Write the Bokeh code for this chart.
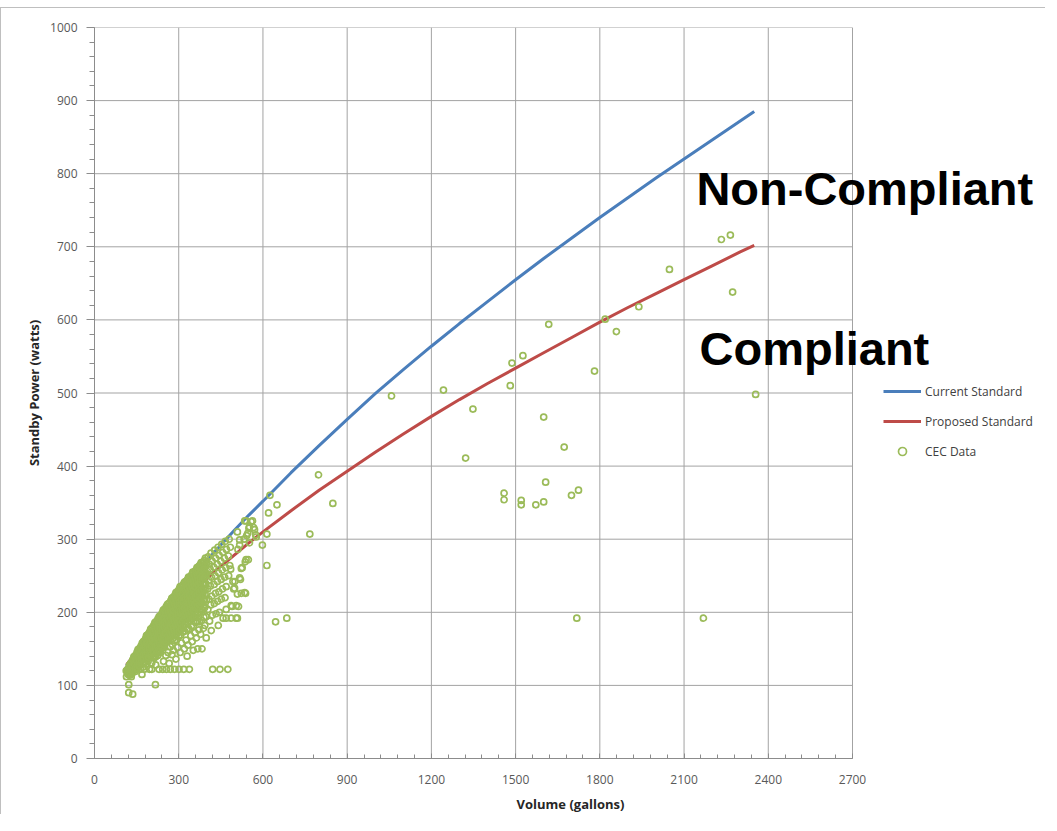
from bokeh.plotting import figure
from bokeh.models import Range1d, SingleIntervalTicker, Legend, LegendItem, Label
from bokeh.embed import file_html
from bokeh.resources import INLINE

# ---------------- data ----------------
std_volume = [114, 150, 200, 250, 300, 350, 400, 450, 500, 550, 600, 700, 800, 900, 1000,
              1100, 1200, 1300, 1400, 1500, 1600, 1700, 1800, 1900, 2000, 2100, 2200,
              2300, 2350]
current_watts = [127, 147, 174, 200, 225, 249, 271, 292, 313, 333, 352, 391, 428, 464, 499,
                 532, 564, 595, 625, 655, 684, 712, 740, 767, 794, 820, 846,
                 872, 885]
proposed_watts = [128, 146, 169, 190, 210, 229, 246, 263, 279, 295, 310, 339, 367, 393, 419,
                  444, 468, 491, 513, 534, 555, 576, 597, 617, 636, 655, 674,
                  693, 702]

# CEC data - dense cluster, first set of columns (one line per column of points)
cluster_volume = [
    116, 119, 114,
    125, 128, 123, 126,
    132, 135, 130, 133,
    140, 143, 138, 141,
    148, 151, 146, 149, 145,
    155, 158, 153, 156, 152,
    162, 165, 160, 163, 159, 164,
    170, 173, 168, 171, 167, 172,
    178, 181, 176, 179, 175, 180, 177,
    185, 188, 183, 186, 182, 187, 184,
    192, 195, 190, 193, 189, 194, 191, 196,
    200, 203, 198, 201, 197, 202, 199, 204,
    208, 211, 206, 209, 205, 210, 207, 212, 204,
    215, 218, 213, 216, 212, 217, 214, 219,
    222, 225, 220, 223, 219, 224, 221, 226, 218, 230,
    230, 233, 228, 231, 227, 232, 229, 234, 226,
    238, 241, 236, 239, 235, 240, 237, 242, 234, 243,
    245, 248, 243, 246, 242, 247, 244, 249, 241, 246,
    252, 255, 250, 253, 249, 254, 251, 256, 248, 254, 256,
    260, 263, 258, 261, 257, 262, 259, 264, 256, 262,
    268, 271, 266, 269, 265, 270, 267, 272, 264, 270, 266, 270,
    275, 278, 273, 276, 272, 277, 274, 279, 271, 277, 276,
    283, 286, 281, 284, 280, 285, 282, 287, 279, 285, 281, 285,
    290, 293, 288, 291, 287, 292, 289, 294, 286, 292, 290,
    298, 301, 296, 299, 295, 300, 297, 302, 294, 300, 296, 301,
    305, 308, 303, 306, 302, 307, 304, 309, 301, 307, 305,
    312, 315, 310, 313, 309, 314, 311, 316, 308, 314, 310, 318,
    320, 323, 318, 321, 317, 322, 319, 324, 316, 322, 320,
    328, 331, 326, 329, 325, 330, 327, 332, 324, 330, 326, 330,
    335, 338, 333, 336, 332, 337, 334, 339, 331, 337, 333, 338,
    343, 346, 341, 344, 340, 345, 342, 347, 339, 345, 343,
    350, 353, 348, 351, 347, 352, 349, 354, 346, 352, 348, 352,
    358, 361, 356, 359, 355, 360, 357, 362, 354, 360, 358,
    365, 368, 363, 366, 362, 367, 364, 369, 361, 367, 363, 368,
    372, 375, 370, 373, 369, 374, 371, 376, 368, 374, 372,
    380, 383, 378, 381, 377, 382, 379, 384, 376, 382, 378, 383,
    388, 391, 386, 389, 385, 390, 387, 392, 384, 390, 388,
    395, 398, 393, 396, 392, 397, 394, 399, 391, 397, 393, 398,
    405, 409, 402, 407, 403, 408, 404, 410,
    415, 419, 412, 417, 413, 418, 414, 420, 416,
    428, 432, 425, 430, 426, 431, 427, 433,
    440, 444, 437, 442, 438, 443, 439, 445, 441,
    453, 457, 450, 455, 451, 456, 452,
    466, 470, 463, 468, 464, 469, 465,
    480, 484, 477, 482, 478,
]
cluster_watts = [
    121, 117, 112,
    128, 123, 119, 114,
    131, 126, 120, 116,
    139, 134, 127, 121,
    142, 136, 132, 124, 119,
    149, 144, 137, 131, 125,
    151, 147, 139, 135, 127, 122,
    158, 150, 146, 138, 134, 125,
    161, 157, 149, 145, 137, 132, 122,
    168, 160, 156, 148, 144, 135, 129,
    170, 166, 158, 154, 146, 142, 133, 122,
    177, 169, 165, 157, 153, 145, 140, 131,
    180, 176, 168, 164, 156, 152, 143, 137, 122,
    186, 178, 174, 166, 162, 154, 149, 139,
    188, 184, 176, 172, 164, 160, 151, 145, 128, 122,
    194, 186, 182, 174, 170, 162, 157, 148, 141,
    197, 193, 185, 181, 173, 169, 160, 155, 145, 122,
    203, 195, 191, 183, 179, 171, 166, 157, 151, 133,
    205, 201, 193, 189, 181, 177, 168, 163, 153, 141, 122,
    211, 203, 199, 191, 187, 179, 174, 165, 159, 145,
    213, 209, 201, 197, 189, 185, 176, 171, 161, 153, 130, 122,
    219, 211, 207, 199, 195, 187, 182, 173, 167, 156, 142,
    221, 217, 209, 205, 197, 193, 184, 179, 169, 161, 148, 122,
    227, 219, 215, 207, 203, 195, 190, 181, 175, 162, 136,
    229, 225, 217, 213, 205, 201, 192, 187, 176, 167, 152, 122,
    235, 227, 223, 215, 211, 203, 198, 189, 181, 169, 145,
    236, 232, 224, 220, 212, 208, 199, 193, 182, 173, 158, 122,
    241, 233, 229, 221, 217, 209, 204, 194, 187, 174, 150,
    243, 239, 231, 227, 219, 214, 205, 199, 187, 177, 162, 140,
    248, 240, 236, 228, 224, 215, 210, 199, 191, 177, 155, 122,
    249, 245, 237, 233, 225, 220, 210, 203, 191, 181, 168,
    255, 247, 243, 235, 231, 221, 215, 204, 195, 181, 160, 148,
    256, 252, 244, 240, 232, 226, 216, 209, 195, 186, 172,
    261, 253, 249, 241, 237, 227, 220, 209, 199, 187, 165, 150,
    263, 259, 251, 247, 238, 232, 221, 213, 199, 187, 176,
    268, 260, 256, 248, 243, 233, 226, 213, 204, 189, 170, 150,
    269, 265, 257, 253, 244, 238, 227, 217, 204, 193, 178,
    274, 266, 262, 254, 249, 239, 231, 217, 208, 194, 182, 165,
    276, 266, 256, 244, 232, 218, 204, 188,
    281, 270, 259, 248, 236, 222, 210, 196, 175,
    285, 274, 262, 250, 238, 226, 212, 198,
    289, 278, 266, 254, 242, 228, 215, 200, 182,
    293, 282, 270, 258, 245, 232, 218,
    297, 286, 274, 261, 248, 235, 220,
    300, 289, 277, 264, 250,
]

# CEC data - dense cluster, second set of columns lying between the first ones
core_volume = [
    121, 123, 119,
    129, 131, 127, 130,
    136, 138, 134, 137,
    144, 146, 142, 145,
    152, 154, 150, 153, 151,
    159, 161, 157, 160, 158,
    166, 168, 164, 167, 165,
    174, 176, 172, 175, 173, 177,
    182, 184, 180, 183, 181, 185,
    189, 191, 187, 190, 188, 192,
    196, 198, 194, 197, 195, 199, 193,
    204, 206, 202, 205, 203, 207, 201,
    212, 214, 210, 213, 211, 215, 209, 214,
    219, 221, 217, 220, 218, 222, 216, 221,
    226, 228, 224, 227, 225, 229, 223, 228,
    234, 236, 232, 235, 233, 237, 231, 236, 232,
    242, 244, 240, 243, 241, 245, 239, 244, 240,
    249, 251, 247, 250, 248, 252, 246, 251, 247,
    256, 258, 254, 257, 255, 259, 253, 258, 254,
    264, 266, 262, 265, 263, 267, 261, 266, 262,
    272, 274, 270, 273, 271, 275, 269, 274, 270,
    279, 281, 277, 280, 278, 282, 276, 281, 277, 279,
    287, 289, 285, 288, 286, 290, 284, 289, 285, 287,
    294, 296, 292, 295, 293, 297, 291, 296, 292, 294,
    302, 304, 300, 303, 301, 305, 299, 304, 300, 302,
    309, 311, 307, 310, 308, 312, 306, 311, 307, 309,
    316, 318, 314, 317, 315, 319, 313, 318, 314, 316,
    324, 326, 322, 325, 323, 327, 321, 326, 322, 324,
    332, 334, 330, 333, 331, 335, 329, 334, 330, 332,
    339, 341, 337, 340, 338, 342, 336, 341, 337, 339,
    347, 349, 345, 348, 346, 350, 344, 349, 345, 347,
    354, 356, 352, 355, 353, 357, 351, 356, 352, 354,
    362, 364, 360, 363, 361, 365, 359, 364, 360, 362,
    369, 371, 367, 370, 368, 372, 366, 371, 367, 369,
    376, 378, 374, 377, 375, 379, 373, 378, 374, 376,
    384, 386, 382, 385, 383, 387, 381, 386, 382, 384,
    392, 394, 390, 393, 391, 395, 389, 394, 390, 392,
]
core_watts = [
    124, 119, 115,
    130, 125, 121, 117,
    135, 130, 124, 119,
    140, 135, 129, 123,
    146, 140, 134, 128, 123,
    150, 144, 138, 132, 127,
    154, 148, 143, 137, 131,
    160, 154, 148, 142, 136, 130,
    164, 158, 152, 146, 141, 135,
    169, 163, 157, 151, 145, 139,
    173, 167, 162, 156, 150, 144, 138,
    178, 172, 166, 160, 154, 148, 142,
    183, 177, 171, 165, 159, 153, 147, 141,
    187, 181, 175, 169, 163, 157, 151, 145,
    191, 185, 179, 173, 167, 161, 155, 149,
    195, 189, 183, 177, 171, 165, 159, 153, 147,
    200, 194, 188, 182, 176, 170, 164, 158, 152,
    204, 198, 192, 186, 180, 174, 168, 162, 156,
    208, 202, 196, 190, 184, 178, 172, 166, 160,
    212, 206, 200, 194, 188, 182, 176, 170, 163,
    216, 210, 204, 198, 192, 186, 180, 174, 167,
    220, 214, 208, 202, 196, 190, 184, 178, 171, 164,
    224, 218, 212, 206, 200, 194, 188, 182, 175, 168,
    228, 222, 216, 210, 204, 198, 192, 186, 179, 171,
    232, 226, 220, 214, 208, 202, 196, 189, 182, 174,
    235, 229, 223, 217, 211, 205, 199, 192, 185, 177,
    238, 232, 226, 220, 214, 208, 202, 195, 188, 180,
    242, 236, 230, 224, 218, 212, 206, 199, 191, 183,
    245, 239, 233, 227, 221, 215, 209, 202, 194, 186,
    248, 242, 236, 230, 224, 218, 212, 205, 197, 188,
    252, 246, 240, 234, 228, 222, 216, 208, 200, 191,
    255, 249, 243, 237, 231, 225, 218, 211, 203, 193,
    258, 252, 246, 240, 234, 228, 221, 214, 206, 196,
    262, 256, 250, 244, 238, 231, 224, 216, 208, 198,
    265, 259, 253, 247, 241, 234, 227, 219, 210, 200,
    268, 262, 256, 250, 244, 237, 230, 222, 213, 203,
    271, 265, 259, 253, 247, 240, 233, 225, 216, 206,
]

# CEC data - individual points around and away from the cluster
outlier_volume = [
    535, 558, 563, 540, 552, 567, 550, 570, 509, 546, 574, 542, 576, 533, 517, 552, 517, 511,
    548, 540, 537, 526, 523, 485, 520, 517, 500, 493, 535, 509, 523, 538, 496, 499,
    513, 490, 487, 505, 469, 509, 487, 458, 469, 505,
    598, 614, 620, 625, 650, 614, 645, 685, 767, 798, 849,
    421, 447, 475,
    113, 122, 122, 136, 131, 169, 217,
    1058, 1243, 1348, 1322, 1481, 1487, 1526, 1618, 1600, 1673, 1607, 1459, 1459, 1520,
    1520, 1572, 1600, 1699, 1724, 1718, 1781, 1819, 1859, 1939, 2048, 2233, 2265, 2273,
    2169, 2355,
]
outlier_watts = [
    325, 324, 325, 325, 317, 316, 315, 313, 310, 308, 306, 305, 303, 300, 299, 295, 292, 286,
    272, 272, 269, 261, 260, 259, 245, 247, 242, 242, 227, 225, 226, 226, 232, 233,
    208, 208, 209, 209, 204, 192, 192, 192, 192, 192,
    292, 307, 336, 360, 347, 264, 187, 192, 307, 388, 349,
    122, 122, 122,
    120, 101, 90, 88, 112, 115, 101,
    496, 504, 478, 411, 510, 541, 551, 594, 467, 426, 378, 363, 354, 353,
    347, 347, 351, 360, 367, 192, 530, 601, 584, 618, 669, 710, 716, 638,
    192, 498,
]

assert len(cluster_volume) == len(cluster_watts)
assert len(core_volume) == len(core_watts)
assert len(outlier_volume) == len(outlier_watts)
cec_volume = cluster_volume + core_volume + outlier_volume
cec_watts = cluster_watts + core_watts + outlier_watts

x_max, x_step = 2700, 300
y_max, y_step = 1000, 100
x_grid_values = list(range(x_step, x_max + 1, x_step))
y_grid_values = list(range(y_step, y_max + 1, y_step))

# ---------------- figure ----------------
FONT = "Open Sans"
GRID = "#a3a3a3"
AXIS = "#8c8c8c"
TICK_TEXT = "#595959"

FIG_W, FIG_H = 1045, 807
BORDER_L, BORDER_T, BORDER_B = 93, 19, 56
frame_w = FIG_W - BORDER_L
# the plot frame runs past the 2700-gallon edge so that the legend and big labels fit
x_view_end = x_max * frame_w / 758.0

p = figure(
    width=FIG_W, height=FIG_H,
    output_backend="svg", toolbar_location=None,
    x_range=Range1d(0, x_view_end), y_range=Range1d(0, y_max),
    min_border_left=BORDER_L, min_border_top=BORDER_T, min_border_right=0,
    min_border_bottom=BORDER_B,
)
p.title.visible = False
p.background_fill_color = "white"
p.border_fill_color = "white"
p.outline_line_color = None
p.styles = {"border-top": "1px solid #bfbfbf", "border-left": "1px solid #bfbfbf",
            "margin-top": "7px"}
p.xgrid.visible = False
p.ygrid.visible = False

# grid lines (limited to the 0..2700 x 0..1000 plot area)
p.segment(x0=x_grid_values, y0=[0] * len(x_grid_values), x1=x_grid_values,
          y1=[y_max] * len(x_grid_values), line_color=GRID, line_width=1)
p.segment(x0=[0] * len(y_grid_values), y0=y_grid_values, x1=[x_max] * len(y_grid_values),
          y1=y_grid_values, line_color=GRID, line_width=1)

p.xaxis.ticker = SingleIntervalTicker(interval=x_step, num_minor_ticks=5)
p.yaxis.ticker = SingleIntervalTicker(interval=y_step, num_minor_ticks=5)
p.xaxis.bounds = (0, x_max)

for ax in (p.xaxis[0], p.yaxis[0]):
    ax.axis_line_color = AXIS
    ax.major_tick_line_color = AXIS
    ax.minor_tick_line_color = AXIS
    ax.major_label_text_font = FONT
    ax.major_label_text_font_size = "12px"
    ax.major_label_text_color = TICK_TEXT
    ax.axis_label_text_font = FONT
    ax.axis_label_text_font_size = "13px"
    ax.axis_label_text_font_style = "bold"
    ax.axis_label_text_color = "#262626"

p.xaxis.major_tick_in = 5
p.xaxis.major_tick_out = 0
p.xaxis.minor_tick_in = 4
p.xaxis.minor_tick_out = 0
p.xaxis.major_label_standoff = 16
p.xaxis.axis_label = "Volume (gallons)"
p.xaxis.axis_label_standoff = 8

p.yaxis.major_tick_in = 0
p.yaxis.major_tick_out = 8
p.yaxis.minor_tick_in = 0
p.yaxis.minor_tick_out = 5
p.yaxis.major_label_standoff = 9
p.yaxis.axis_label = "Standby Power (watts)"
p.yaxis.axis_label_standoff = 4

r_cur = p.line(std_volume, current_watts, line_color="#4a7ebb", line_width=3)
r_pro = p.line(std_volume, proposed_watts, line_color="#be4b48", line_width=3)
r_cec = p.scatter(cec_volume, cec_watts, marker="circle", size=6,
                  fill_color=None, line_color="#9bbb59", line_width=1.7)

legend = Legend(
    items=[
        LegendItem(label="Current Standard", renderers=[r_cur]),
        LegendItem(label="Proposed Standard", renderers=[r_pro]),
        LegendItem(label="CEC Data", renderers=[r_cec]),
    ],
    location=(789, 297),
    glyph_width=38, glyph_height=20, label_height=20, spacing=10,
    label_standoff=4, padding=0, margin=0,
    border_line_color=None, background_fill_alpha=0,
    label_text_font=FONT, label_text_font_size="12px", label_text_color="#404040",
)
p.add_layout(legend, "center")

p.add_layout(Label(x=2144, y=780, text="Non-Compliant", text_font="Liberation Sans",
                   text_font_style="bold", text_font_size="47px", text_color="black",
                   text_baseline="alphabetic"))
p.add_layout(Label(x=2155, y=561, text="Compliant", text_font="Liberation Sans",
                   text_font_style="bold", text_font_size="47px", text_color="black",
                   text_baseline="alphabetic"))

open("out.html", "w").write(file_html(p, INLINE))
